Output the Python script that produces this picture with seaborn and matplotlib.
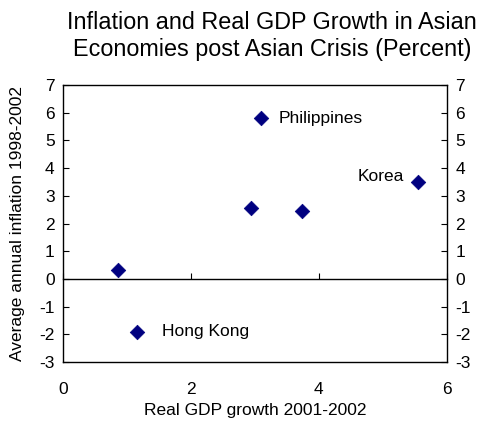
import numpy as np
import pandas as pd
import matplotlib
matplotlib.use('Agg')
import matplotlib.pyplot as plt
import seaborn as sns

# values
gdp_growth = [0.86, 1.16, 2.94, 3.09, 3.73, 5.55]
inflation = [0.33, -1.9, 2.56, 5.8, 2.45, 3.5]
names = ['', 'Hong Kong', '', 'Philippines', '', 'Korea']

df = pd.DataFrame({'growth': gdp_growth, 'inflation': inflation, 'name': names})

sns.set_style('white')
plt.rcParams['font.family'] = ['Liberation Sans', 'DejaVu Sans']
plt.rcParams['axes.unicode_minus'] = False
plt.rcParams['text.color'] = 'black'
plt.rcParams['axes.labelcolor'] = 'black'
plt.rcParams['xtick.color'] = 'black'
plt.rcParams['ytick.color'] = 'black'

fig = plt.figure(figsize=(4.79, 4.25), dpi=100)
ax = fig.add_axes([0.1315, 0.148, 0.8015, 0.652])

sns.scatterplot(data=df, x='growth', y='inflation', marker='D', s=55,
                color='#000080', edgecolor='#000080', linewidth=0.5, ax=ax, zorder=3)

ax.set_xlim(0, 6)
ax.set_ylim(-3, 7)
ax.set_yticks(range(-3, 8))
ax.set_xticks([0, 2, 4, 6])

for s in ax.spines.values():
    s.set_color('black')
    s.set_linewidth(1)

# y ticks inward on both sides, labels on both sides
ax.tick_params(axis='y', direction='in', length=4, left=True, right=True,
               labelleft=True, labelright=True, labelsize=12.5, pad=6)
ax.tick_params(axis='x', length=0, labelsize=12.5, pad=14)

# zero line with its own inward ticks
ymin, ymax = ax.get_ylim()
sec = ax.secondary_xaxis((0 - ymin) / (ymax - ymin))
sec.set_xticks([0, 2, 4, 6])
sec.tick_params(direction='in', length=4, labelbottom=False)
sec.spines['bottom'].set_linewidth(1)
sec.spines['bottom'].set_color('black')

offsets = {'Philippines': (13, 0, 'left'), 'Korea': (-10, 4, 'right'),
           'Hong Kong': (18, 0, 'left')}
for _, r in df.iterrows():
    if r['name']:
        dx, dy, ha = offsets[r['name']]
        ax.annotate(r['name'], (r['growth'], r['inflation']), xytext=(dx, dy),
                    textcoords='offset points', ha=ha, va='center', fontsize=12.5)

ax.set_xlabel('Real GDP growth 2001-2002', fontsize=12.5, labelpad=5)
ax.set_ylabel('Average annual inflation 1998-2002', fontsize=12.5, labelpad=10)
ax.set_title('Inflation and Real GDP Growth in Asian\nEconomies post Asian Crisis (Percent)',
             fontsize=16.8, pad=21, linespacing=1.2, x=0.545)

fig.savefig('out.png', dpi=100)
